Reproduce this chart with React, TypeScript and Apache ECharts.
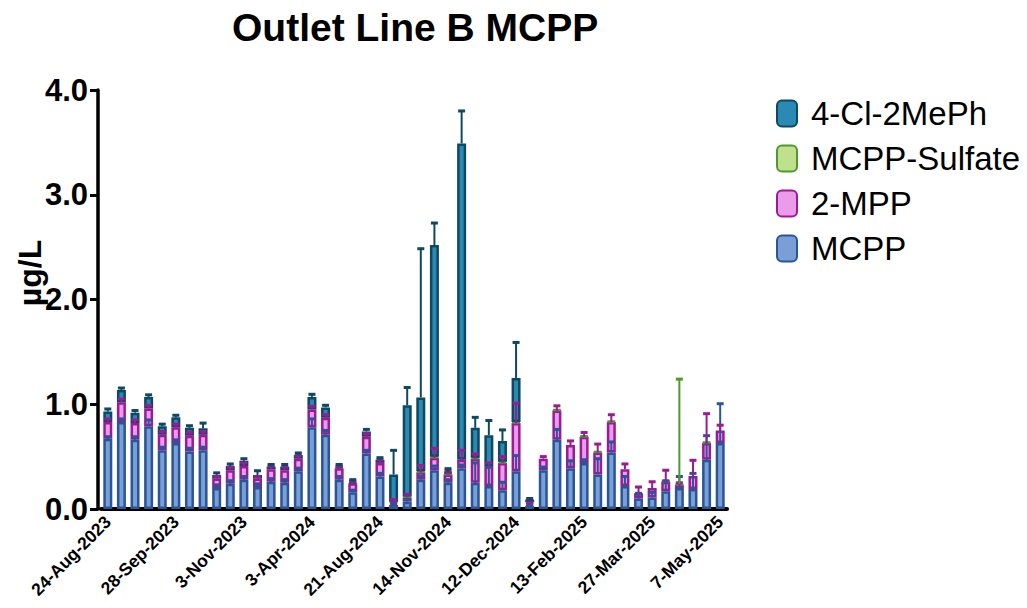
import React, { useEffect, useRef } from "react";
import * as echarts from "echarts";

// Sampling events (46), labelled every fifth one on the axis
const sampleCount = 46;
const tickLabels = [
  "24-Aug-2023", "28-Sep-2023", "3-Nov-2023", "3-Apr-2024", "21-Aug-2024",
  "14-Nov-2024", "12-Dec-2024", "13-Feb-2025", "27-Mar-2025", "7-May-2025",
];

// Concentrations in µg/L (stack order: MCPP, 2-MPP, MCPP-Sulfate, 4-Cl-2MePh)
const mcpp = [
  0.67, 0.83, 0.66, 0.79, 0.56, 0.63, 0.55, 0.56, 0.20, 0.24,
  0.28, 0.21, 0.26, 0.25, 0.36, 0.78, 0.71, 0.28, 0.16, 0.53,
  0.31, 0.04, 0.07, 0.28, 0.37, 0.25, 0.39, 0.25, 0.22, 0.18,
  0.36, 0.03, 0.37, 0.66, 0.39, 0.44, 0.33, 0.54, 0.22, 0.10,
  0.11, 0.17, 0.20, 0.19, 0.47, 0.63,
];
const mpp2 = [
  0.16, 0.19, 0.16, 0.17, 0.15, 0.15, 0.15, 0.15, 0.09, 0.13,
  0.13, 0.08, 0.12, 0.12, 0.12, 0.17, 0.16, 0.11, 0.085, 0.16,
  0.13, 0.02, 0.04, 0.07, 0.12, 0.08, 0.08, 0.23, 0.19, 0.26,
  0.46, 0.02, 0.11, 0.28, 0.22, 0.25, 0.21, 0.29, 0.16, 0.05,
  0.09, 0.09, 0.03, 0.125, 0.16, 0.12,
];
const sulfate = [
  0, 0, 0, 0, 0, 0, 0, 0, 0, 0,
  0, 0, 0, 0, 0, 0, 0, 0, 0, 0,
  0, 0.01, 0.01, 0.01, 0.01, 0.01, 0, 0.01, 0, 0.01,
  0.01, 0.015, 0, 0.01, 0, 0.01, 0.01, 0.01, 0, 0,
  0, 0.01, 0.01, 0, 0.01, 0,
];
const clMePh = [
  0.10, 0.115, 0.10, 0.11, 0.08, 0.095, 0.075, 0.06, 0.035, 0.04,
  0.05, 0.035, 0.025, 0.035, 0.035, 0.12, 0.10, 0.015, 0.015, 0.05,
  0.03, 0.26, 0.87, 0.705, 2.02, 0.015, 3.02, 0.285, 0.295, 0.20,
  0.42, 0.025, 0, 0, 0, 0, 0, 0, 0, 0,
  0, 0, 0, 0, 0, 0,
];

// Upper error (standard deviation) of each component
const mcppErr = [
  0.02, 0.03, 0.03, 0.06, 0.03, 0.03, 0.03, 0.03, 0.03, 0.03,
  0.03, 0.03, 0.03, 0.03, 0.03, 0.08, 0.04, 0.03, 0.02, 0.03,
  0.03, 0.02, 0.02, 0.03, 0.04, 0.03, 0.03, 0.19, 0.18, 0.075,
  0.15, 0.01, 0.03, 0.10, 0.07, 0.03, 0.15, 0.10, 0.09, 0.05,
  0.05, 0.10, 0.11, 0.15, 0.23, 0.375,
];
const mpp2Err = [
  0.03, 0.03, 0.03, 0.03, 0.03, 0.03, 0.03, 0.03, 0.02, 0.03,
  0.03, 0.02, 0.03, 0.03, 0.03, 0.03, 0.03, 0.02, 0.02, 0.03,
  0.03, 0.03, 0.03, 0.065, 0.09, 0.03, 0.09, 0.045, 0.03, 0.06,
  0.19, 0.01, 0.02, 0.045, 0.04, 0.04, 0.08, 0.07, 0.05, 0.06,
  0.06, 0.11, 0.02, 0.15, 0.28, 0.05,
];
const sulfateErr = [
  0, 0, 0, 0, 0, 0, 0, 0, 0, 0,
  0, 0, 0, 0, 0, 0, 0, 0, 0, 0,
  0, 0, 0, 0, 0, 0, 0, 0, 0, 0,
  0, 0, 0, 0, 0, 0, 0, 0, 0, 0,
  0, 0, 1.0, 0, 0, 0,
];
const clMePhErr = [
  0.025, 0.02, 0.02, 0.02, 0.02, 0.02, 0.02, 0.05, 0.02, 0.02,
  0.02, 0.04, 0.02, 0.02, 0.02, 0.025, 0.02, 0.02, 0.02, 0.02,
  0.02, 0.23, 0.17, 1.42, 0.21, 0.03, 0.31, 0.10, 0.14, 0.105,
  0.34, 0.01, 0, 0, 0, 0, 0, 0, 0, 0,
  0, 0, 0, 0, 0, 0,
];

const FONT = "'Liberation Sans', Arial, Helvetica, sans-serif";

type Component = {
  name: string;
  values: number[];
  errors: number[];
  fill: string;
  edge: string;
};

const components: Component[] = [
  { name: "MCPP", values: mcpp, errors: mcppErr, fill: "#7A9ED6", edge: "#2A5596" },
  { name: "2-MPP", values: mpp2, errors: mpp2Err, fill: "#EA9CEA", edge: "#9A1A98" },
  { name: "MCPP-Sulfate", values: sulfate, errors: sulfateErr, fill: "#BFE08C", edge: "#4E9A2C" },
  { name: "4-Cl-2MePh", values: clMePh, errors: clMePhErr, fill: "#2B8AB3", edge: "#0E4862" },
];

function buildOption(): echarts.EChartsOption {
  const categories = Array.from({ length: sampleCount }, (_, i) => String(i + 1));

  // running top of the stack, used to place each component's error bar
  const base = new Array(sampleCount).fill(0);
  const barSeries: any[] = [];
  const errorSeries: any[] = [];

  components.forEach((c) => {
    barSeries.push({
      name: c.name,
      type: "bar",
      stack: "total",
      barWidth: 9,
      itemStyle: { color: c.fill, borderColor: c.edge, borderWidth: 2.5 },
      data: c.values.map((v) => (v > 0 ? v : null)),
    });
    const errData: number[][] = [];
    c.values.forEach((v, i) => {
      const top = base[i] + v;
      if (v > 0 && c.errors[i] > 0) errData.push([i, top, top + c.errors[i]]);
      base[i] = top;
    });
    errorSeries.push({
      name: c.name + " SD",
      type: "custom",
      z: 5,
      encode: { x: 0, y: [1, 2] },
      data: errData,
      renderItem: (_params: any, api: any) => {
        const i = api.value(0);
        const p0 = api.coord([i, api.value(1)]);
        const p1 = api.coord([i, api.value(2)]);
        const cap = 3.5;
        return {
          type: "group",
          children: [
            {
              type: "line",
              shape: { x1: p0[0], y1: p0[1], x2: p1[0], y2: p1[1] },
              style: { stroke: c.edge, lineWidth: 2 },
            },
            {
              type: "line",
              shape: { x1: p1[0] - cap, y1: p1[1], x2: p1[0] + cap, y2: p1[1] },
              style: { stroke: c.edge, lineWidth: 3 },
            },
          ],
        };
      },
    });
  });

  return {
    animation: false,
    backgroundColor: "#ffffff",
    title: {
      text: "Outlet Line B MCPP",
      left: 227,
      top: 3,
      textStyle: { fontFamily: FONT, fontSize: 39, fontWeight: "bold", color: "#000" },
    },
    legend: {
      orient: "vertical",
      left: 776,
      top: 97,
      padding: 0,
      itemWidth: 20,
      itemHeight: 26,
      itemGap: 12,
      data: ["4-Cl-2MePh", "MCPP-Sulfate", "2-MPP", "MCPP"],
      textStyle: { fontFamily: FONT, fontSize: 33, color: "#000", padding: [0, 0, 0, 9] },
    },
    graphic: [
      {
        type: "text",
        x: 30,
        y: 273,
        rotation: Math.PI / 2,
        style: {
          text: "µg/L",
          align: "center",
          verticalAlign: "middle",
          fill: "#000",
          font: `bold 32px ${FONT}`,
        },
      },
    ],
    grid: { left: 101, top: 90, width: 626, height: 419, containLabel: false },
    xAxis: {
      type: "category",
      data: categories,
      axisLine: { lineStyle: { color: "#000", width: 4 } },
      axisTick: {
        alignWithLabel: true,
        interval: (index: number) => index % 5 === 0,
        length: 8,
        lineStyle: { color: "#000", width: 3 },
      },
      axisLabel: {
        interval: (index: number) => index % 5 === 0,
        rotate: 45,
        margin: 10,
        color: "#000",
        fontFamily: FONT,
        fontWeight: "bold",
        fontSize: 17.5,
        formatter: (_v: string, index: number) => (index % 5 === 0 ? tickLabels[index / 5] : ""),
      },
    },
    yAxis: {
      type: "value",
      min: 0,
      max: 4,
      interval: 1,
      offset: 3,
      axisLine: { show: true, lineStyle: { color: "#000", width: 3.5 } },
      axisTick: { show: true, length: 8, lineStyle: { color: "#000", width: 3 } },
      splitLine: { show: false },
      axisLabel: {
        margin: 10,
        color: "#000",
        fontFamily: FONT,
        fontWeight: "bold",
        fontSize: 31,
        formatter: (v: number) => v.toFixed(1),
      },
    },
    series: [...barSeries, ...errorSeries],
  };
}

export default function App() {
  const ref = useRef<HTMLDivElement>(null);
  useEffect(() => {
    if (!ref.current) return;
    const chart = echarts.init(ref.current, undefined, { renderer: "svg" });
    chart.setOption(buildOption());
    return () => chart.dispose();
  }, []);
  return (
    <div
      ref={ref}
      style={{ position: "fixed", left: 0, top: 0, width: 1027, height: 608, background: "#fff" }}
    />
  );
}
